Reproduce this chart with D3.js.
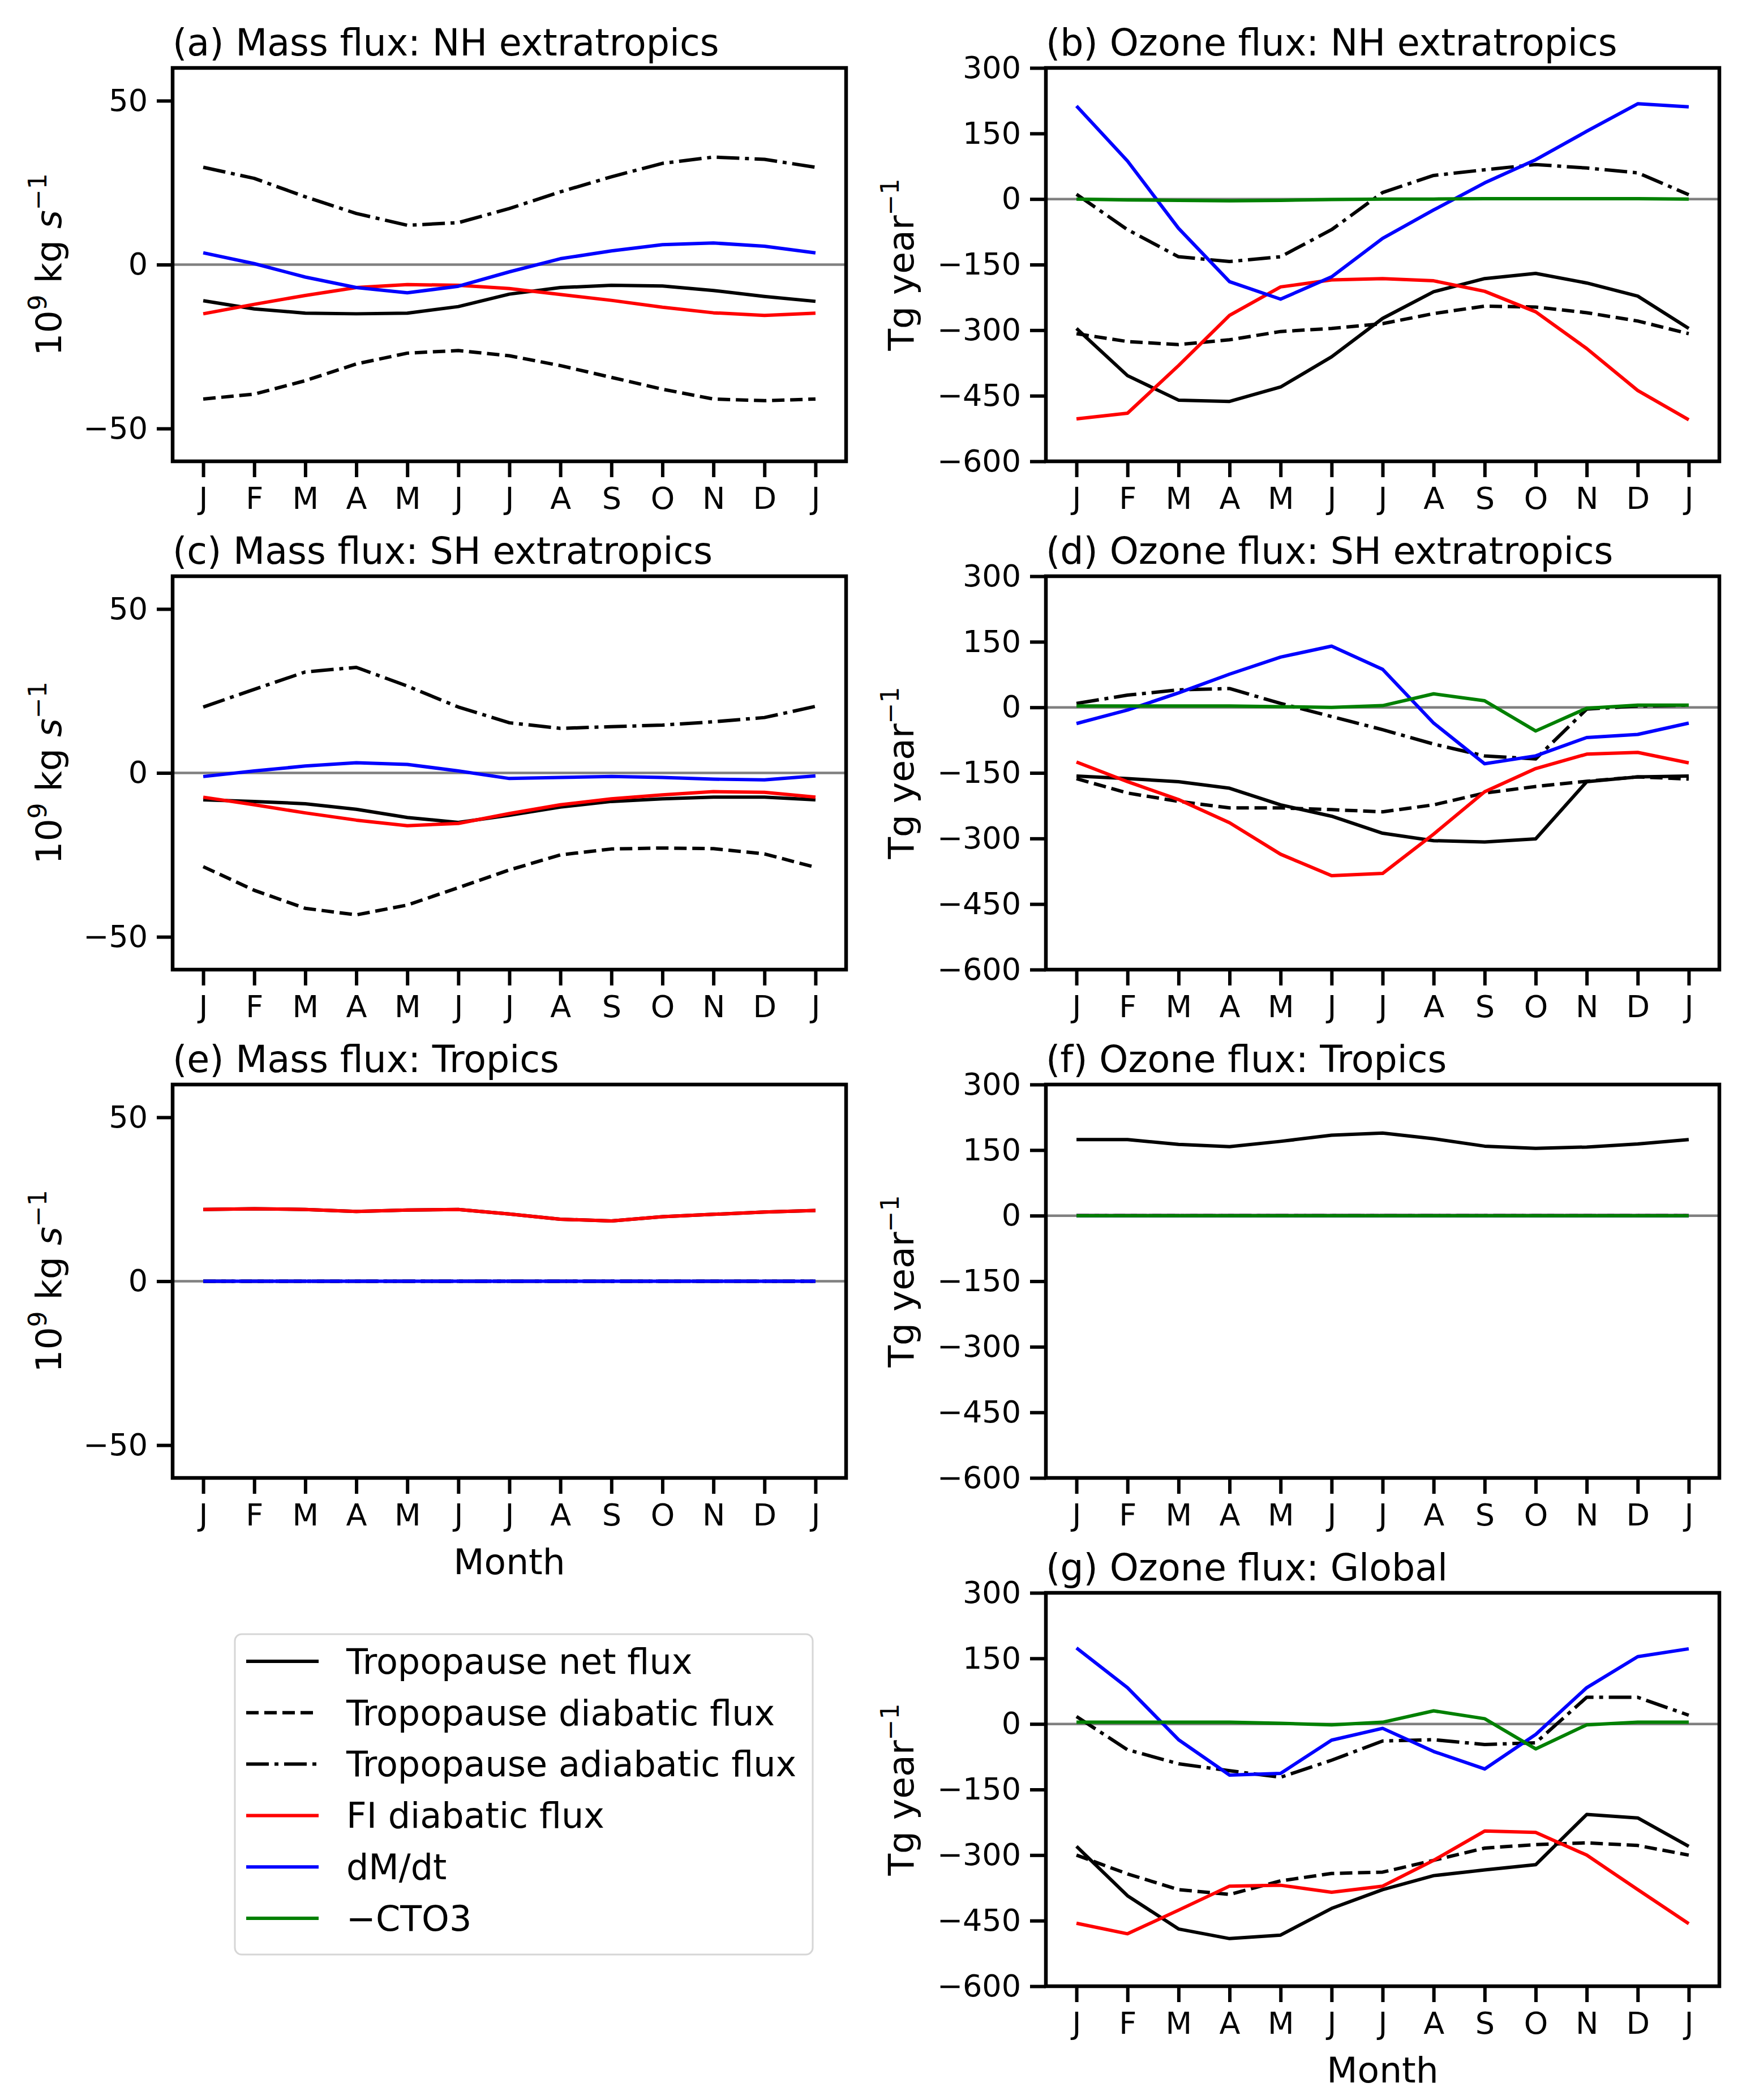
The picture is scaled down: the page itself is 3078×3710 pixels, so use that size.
<!DOCTYPE html>
<html><head><meta charset="utf-8">
<script src="https://cdn.jsdelivr.net/npm/d3@7/dist/d3.min.js"></script>
<style>body{margin:0;background:#fff}</style>
</head><body>
<svg id="chart" width="3078" height="3710" xmlns="http://www.w3.org/2000/svg"></svg>
<script>
// ---------- data ----------
const months = ["J","F","M","A","M","J","J","A","S","O","N","D","J"];
const massTicks = [-50, 0, 50];
const ozoneTicks = [300, 150, 0, -150, -300, -450, -600];

// (a) Mass flux: NH extratropics
const a_net   = [-11.0,-13.5,-14.8,-15.0,-14.8,-12.8,-9.0,-7.0,-6.3,-6.5,-7.9,-9.7,-11.2];
const a_diab  = [-41.0,-39.5,-35.4,-30.3,-27.0,-26.2,-27.8,-30.8,-34.4,-38.0,-41.0,-41.5,-41.0];
const a_adiab = [29.7,26.3,20.7,15.6,12.0,12.8,17.1,22.2,26.8,30.9,32.8,32.1,29.7];
const a_fi    = [-15.0,-12.1,-9.4,-7.0,-6.1,-6.3,-7.3,-9.1,-10.9,-13.0,-14.7,-15.5,-14.8];
const a_dmdt  = [3.6,0.3,-3.8,-7.0,-8.6,-6.6,-2.2,1.8,4.2,6.1,6.6,5.6,3.6];

// (b) Ozone flux: NH extratropics
const b_net   = [-296,-404,-460,-463,-430,-361,-273,-212,-182,-170,-192,-222,-296];
const b_diab  = [-308,-326,-333,-322,-303,-296,-285,-262,-245,-247,-260,-279,-308];
const b_adiab = [11,-70,-132,-143,-132,-70,15,54,67,79,71,60,10];
const b_fi    = [-503,-490,-381,-266,-201,-185,-182,-187,-211,-258,-342,-438,-505];
const b_dmdt  = [213,87,-67,-189,-229,-178,-90,-25,37,90,155,218,211];
const b_cto3  = [0,-2,-3,-4,-3,-1,0,0,1,1,1,1,0];

// (c) Mass flux: SH extratropics
const c_net   = [-8.2,-8.7,-9.4,-11.1,-13.6,-15.1,-12.9,-10.4,-8.7,-7.9,-7.4,-7.4,-8.2];
const c_diab  = [-28.6,-35.8,-41.3,-43.3,-40.3,-35.0,-29.6,-25.0,-23.2,-22.9,-23.1,-24.7,-28.8];
const c_adiab = [20.1,25.5,30.8,32.2,26.5,20.1,15.3,13.6,14.1,14.6,15.6,16.9,20.3];
const c_fi    = [-7.4,-9.7,-12.2,-14.4,-16.1,-15.4,-12.4,-9.7,-7.9,-6.7,-5.7,-5.9,-7.4];
const c_dmdt  = [-1.1,0.6,2.1,3.1,2.6,0.6,-1.7,-1.4,-1.1,-1.4,-1.9,-2.1,-0.9];

// (d) Ozone flux: SH extratropics
const d_net   = [-157,-163,-170,-185,-223,-249,-288,-305,-308,-301,-170,-159,-157];
const d_diab  = [-163,-196,-215,-230,-230,-234,-239,-223,-196,-181,-169,-159,-164];
const d_adiab = [9,28,40,43,9,-21,-51,-84,-111,-118,-4,3,5];
const d_fi    = [-125,-170,-211,-264,-336,-385,-380,-290,-193,-140,-107,-103,-127];
const d_dmdt  = [-37,-6,33,76,115,140,87,-36,-129,-111,-69,-62,-36];
const d_cto3  = [3,3,3,3,1.5,0,4,31,15,-54,-2,5,5];

// (e) Mass flux: Tropics
const e_net   = [21.9,22.1,21.9,21.3,21.7,21.9,20.5,18.9,18.4,19.7,20.4,21.1,21.6];
const e_diab  = [0,0,0,0,0,0,0,0,0,0,0,0,0];
const e_adiab = [0,0,0,0,0,0,0,0,0,0,0,0,0];
const e_fi    = [21.9,22.1,21.9,21.3,21.7,21.9,20.5,18.9,18.4,19.7,20.4,21.1,21.6];
const e_dmdt  = [0,0,0,0,0,0,0,0,0,0,0,0,0];

// (f) Ozone flux: Tropics
const f_net   = [174,174,163,158,170,184,189,176,159,154,157,164,174];
const f_diab  = [0,0,0,0,0,0,0,0,0,0,0,0,0];
const f_adiab = [0,0,0,0,0,0,0,0,0,0,0,0,0];
const f_fi    = [0,0,0,0,0,0,0,0,0,0,0,0,0];
const f_dmdt  = [0,0,0,0,0,0,0,0,0,0,0,0,0];
const f_cto3  = [0,0,0,0,0,0,0,0,0,0,0,0,0];

// (g) Ozone flux: Global
const g_net   = [-280,-393,-469,-491,-483,-422,-379,-347,-334,-322,-207,-215,-280];
const g_diab  = [-300,-343,-379,-390,-359,-342,-339,-312,-284,-276,-272,-278,-300];
const g_adiab = [17,-59,-91,-107,-122,-83,-39,-36,-47,-43,61,61,20];
const g_fi    = [-456,-480,-426,-371,-369,-385,-371,-312,-245,-248,-300,-379,-457];
const g_dmdt  = [174,83,-36,-117,-113,-37,-10,-63,-103,-24,83,154,172];
const g_cto3  = [4,4,4,4,1.6,-2,4,30,12,-57,-2,4,4];

const legendLabels = ["Tropopause net flux","Tropopause diabatic flux","Tropopause adiabatic flux","FI diabatic flux","dM/dt","\u2212CTO3"];
const seriesKeys = ["net","diab","adiab","fi","dmdt","cto3"];

// ---------- styles / layout ----------
const FONT = "DejaVu Sans";
const LW = 6;
const styles = {
  net:   {color:"#000000", dash:null},
  diab:  {color:"#000000", dash:"22,10"},
  adiab: {color:"#000000", dash:"40,10,7,10"},
  fi:    {color:"#ff0000", dash:null},
  dmdt:  {color:"#0000ff", dash:null},
  cto3:  {color:"#008000", dash:null}
};
const colX = [305, 1848], colW = 1190;
const rowY = [120, 1018, 1916, 2814], rowH = 695;

const panels = [
  {title:"(a) Mass flux: NH extratropics", r:0, c:0, kind:"mass", s:{net:a_net,diab:a_diab,adiab:a_adiab,fi:a_fi,dmdt:a_dmdt}},
  {title:"(b) Ozone flux: NH extratropics", r:0, c:1, kind:"ozone", s:{net:b_net,diab:b_diab,adiab:b_adiab,fi:b_fi,dmdt:b_dmdt,cto3:b_cto3}},
  {title:"(c) Mass flux: SH extratropics", r:1, c:0, kind:"mass", s:{net:c_net,diab:c_diab,adiab:c_adiab,fi:c_fi,dmdt:c_dmdt}},
  {title:"(d) Ozone flux: SH extratropics", r:1, c:1, kind:"ozone", s:{net:d_net,diab:d_diab,adiab:d_adiab,fi:d_fi,dmdt:d_dmdt,cto3:d_cto3}},
  {title:"(e) Mass flux: Tropics", r:2, c:0, kind:"mass", xlabel:true, s:{net:e_net,diab:e_diab,adiab:e_adiab,fi:e_fi,dmdt:e_dmdt}},
  {title:"(f) Ozone flux: Tropics", r:2, c:1, kind:"ozone", s:{net:f_net,diab:f_diab,adiab:f_adiab,fi:f_fi,dmdt:f_dmdt,cto3:f_cto3}},
  {title:"(g) Ozone flux: Global", r:3, c:1, kind:"ozone", xlabel:true, s:{net:g_net,diab:g_diab,adiab:g_adiab,fi:g_fi,dmdt:g_dmdt,cto3:g_cto3}}
];

const svg = d3.select("#chart");
svg.append("rect").attr("width",3078).attr("height",3710).attr("fill","#fff");

const fmt = v => (v < 0 ? "\u2212" + Math.abs(v) : String(v));

function drawPanel(p) {
  const x0 = colX[p.c], y0 = rowY[p.r];
  const g = svg.append("g").attr("transform", `translate(${x0},${y0})`);
  const x = d3.scaleLinear().domain([-0.6, 12.6]).range([0, colW]);
  const y = p.kind === "mass"
    ? d3.scaleLinear().domain([-60, 60]).range([rowH, 0])
    : d3.scaleLinear().domain([-600, 300]).range([rowH, 0]);
  const ticks = p.kind === "mass" ? massTicks : ozoneTicks;

  // zero line
  g.append("line").attr("x1",0).attr("x2",colW).attr("y1",y(0)).attr("y2",y(0))
    .attr("stroke","#808080").attr("stroke-width",4.5);

  const line = d3.line().x((d,i)=>x(i)).y(d=>y(d));
  seriesKeys.forEach(k => {
    if (!p.s[k]) return;
    const st = styles[k];
    g.append("path").datum(p.s[k]).attr("d", line)
      .attr("fill","none").attr("stroke", st.color).attr("stroke-width", LW)
      .attr("stroke-dasharray", st.dash).attr("stroke-linejoin","round");
  });

  // axes
  const yAxis = d3.axisLeft(y).tickValues(ticks).tickFormat(fmt).tickSize(28).tickPadding(16);
  const ya = g.append("g").call(yAxis);
  const xAxis = d3.axisBottom(x).tickValues(d3.range(13)).tickFormat(i=>months[i]).tickSize(28).tickPadding(18);
  const xa = g.append("g").attr("transform",`translate(0,${rowH})`).call(xAxis);
  [ya, xa].forEach(a => {
    a.select(".domain").remove();
    a.selectAll(".tick line").attr("stroke","#000").attr("stroke-width",6);
    a.selectAll(".tick text").attr("fill","#000").attr("font-family",FONT).attr("font-size",54);
  });

  // frame
  g.append("rect").attr("x",0).attr("y",0).attr("width",colW).attr("height",rowH)
    .attr("fill","none").attr("stroke","#000").attr("stroke-width",6.5);

  // title
  g.append("text").attr("x",0).attr("y",-22).attr("font-family",FONT).attr("font-size",65)
    .attr("fill","#000").text(p.title);

  // y label
  const lx = p.kind === "mass" ? -197 : -234;
  const lab = g.append("text").attr("font-family",FONT).attr("font-size",63).attr("fill","#000")
    .attr("text-anchor","middle")
    .attr("transform",`translate(${lx},${rowH/2}) rotate(-90)`);
  if (p.kind === "mass") {
    lab.append("tspan").text("10");
    lab.append("tspan").attr("font-size",44).attr("dy",-26).text("9");
    lab.append("tspan").attr("dy",26).text(" kg ");
    lab.append("tspan").attr("font-style","italic").text("s");
    lab.append("tspan").attr("font-size",44).attr("dy",-26).text("\u22121");
  } else {
    lab.append("tspan").text("Tg year");
    lab.append("tspan").attr("font-size",44).attr("dy",-26).text("\u22121");
  }

  if (p.xlabel) {
    g.append("text").attr("x",colW/2).attr("y",rowH+170).attr("text-anchor","middle")
      .attr("font-family",FONT).attr("font-size",63).attr("fill","#000").text("Month");
  }
}
panels.forEach(drawPanel);

// legend
const lg = svg.append("g");
lg.append("rect").attr("x",415).attr("y",2887).attr("width",1021).attr("height",566)
  .attr("rx",12).attr("fill","#fff").attr("fill-opacity",0.8).attr("stroke","#d6d6d6").attr("stroke-width",3);
const legY = d3.scaleLinear().domain([0,5]).range([2935, 3389]);
seriesKeys.forEach((k,i) => {
  const st = styles[k];
  lg.append("line").attr("x1",435).attr("x2",563).attr("y1",legY(i)).attr("y2",legY(i))
    .attr("stroke",st.color).attr("stroke-width",LW).attr("stroke-dasharray",st.dash);
  lg.append("text").attr("x",612).attr("y",legY(i)).attr("dy","0.35em")
    .attr("font-family",FONT).attr("font-size",62).attr("fill","#000").text(legendLabels[i]);
});
</script></body></html>
